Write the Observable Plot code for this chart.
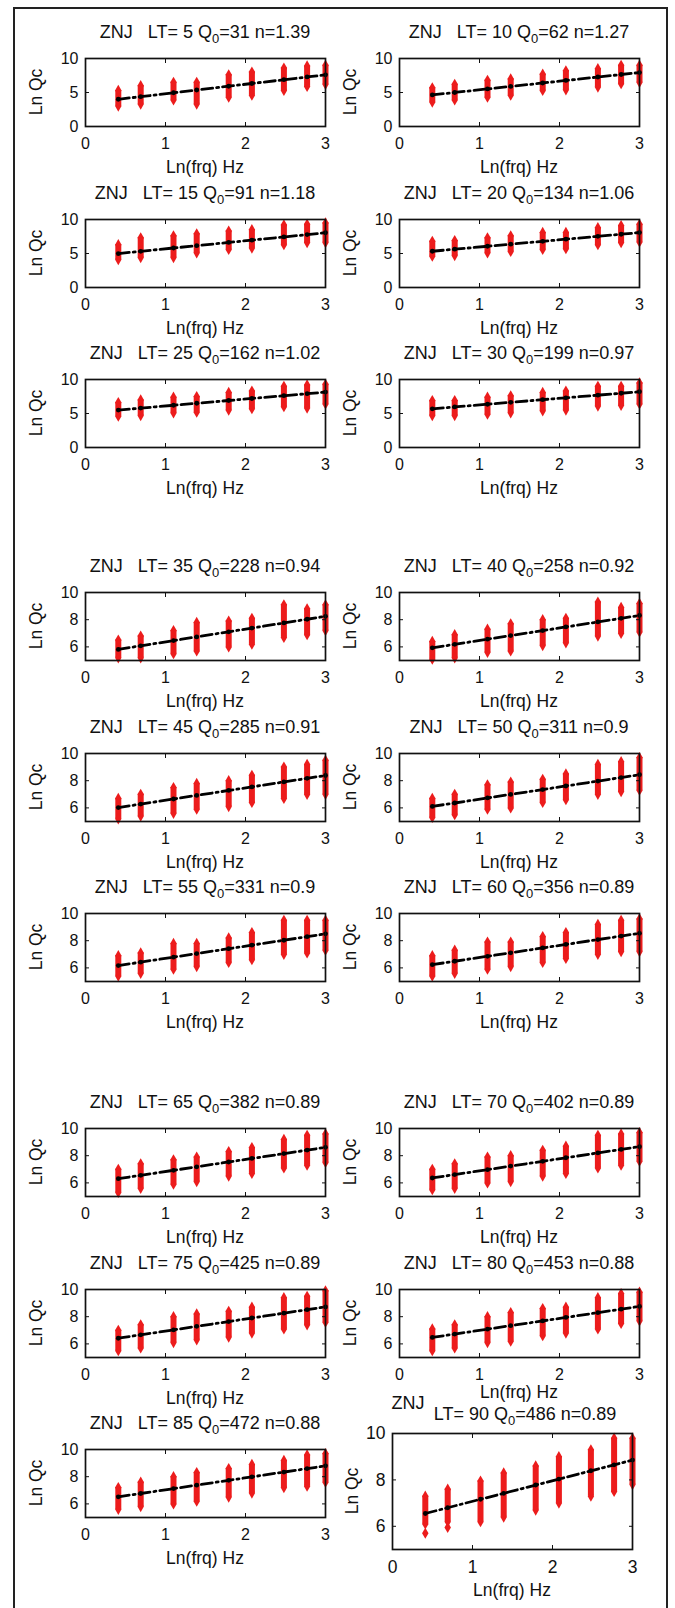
<!DOCTYPE html>
<html><head><meta charset="utf-8">
<script src="https://cdn.jsdelivr.net/npm/d3@7"></script>
<script src="https://cdn.jsdelivr.net/npm/@observablehq/plot@0.6"></script>
<style>
body{margin:0;background:#fff;}
#fig{position:relative;width:675px;height:1608px;overflow:hidden;background:#fff;font-family:"Liberation Sans",Arial,sans-serif;color:#111;}
.outer{position:absolute;left:13px;top:7px;width:655px;height:1700px;border:2px solid #222;box-sizing:border-box;}
.t{position:absolute;white-space:pre;font-size:18px;line-height:18px;transform:translate(-50%,-50%);}
.t sub{font-size:13px;vertical-align:-5px;line-height:0;}
.lab{font-size:17.5px;line-height:18px;}
.yl{transform:translate(-50%,-50%) rotate(-90deg);}
.pl{position:absolute;}
</style></head>
<body><div id="fig"><div class="outer"></div></div>
<script>
// ---- data ----
const lnFreq = [0.41, 0.69, 1.10, 1.39, 1.79, 2.08, 2.48, 2.77, 3.00];
const lapseTimes = [5,10,15,20,25,30,35,40,45,50,55,60,65,70,75,80,85,90];
const q0Values = [31,62,91,134,162,199,228,258,285,311,331,356,382,402,425,453,472,486];
const nValues = [1.39,1.27,1.18,1.06,1.02,0.97,0.94,0.92,0.91,0.9,0.9,0.89,0.89,0.89,0.89,0.88,0.88,0.89];
const qcLow = [
  [3.0,3.3,3.9,3.3,4.3,4.6,5.3,5.9,6.2],
  [3.6,3.9,4.3,4.6,5.3,5.4,5.8,6.3,6.5],
  [4.1,4.4,4.4,5.1,5.6,5.8,6.3,6.6,6.6],
  [4.6,4.7,5.1,5.3,5.6,5.7,6.3,6.6,6.7],
  [4.6,4.7,5.1,5.2,5.5,5.7,6.0,5.8,6.4],
  [4.7,4.7,4.9,5.1,5.4,5.5,6.1,6.2,6.4],
  [5.2,5.2,5.5,5.7,6.0,6.2,6.7,6.9,7.2],
  [5.1,5.2,5.6,5.7,6.1,6.3,6.8,7.0,7.1],
  [5.2,5.4,5.6,5.9,6.1,6.4,6.7,7.0,7.0],
  [5.3,5.5,5.9,6.0,6.4,6.6,7.0,7.2,7.3],
  [5.4,5.6,5.9,6.1,6.4,6.6,7.0,7.1,7.3],
  [5.4,5.6,5.9,6.1,6.4,6.7,7.0,7.2,7.2],
  [5.3,5.6,5.9,6.1,6.5,6.7,7.1,7.3,7.5],
  [5.5,5.6,6.0,6.1,6.5,6.7,7.1,7.3,7.6],
  [5.5,5.7,6.1,6.3,6.5,6.8,7.1,7.4,7.6],
  [5.5,5.7,6.1,6.2,6.6,6.8,7.1,7.5,7.7],
  [5.6,5.8,6.0,6.2,6.5,6.8,7.2,7.3,7.6],
  [6.1,6.2,6.2,6.4,6.7,7.0,7.3,7.5,7.8]
];
const qcHigh = [
  [5.3,6.0,6.5,6.5,7.6,8.0,8.6,8.9,9.0],
  [5.7,6.2,6.8,7.0,7.7,8.2,8.5,9.0,9.0],
  [6.3,7.3,7.6,7.9,8.3,8.5,9.2,9.3,9.5],
  [6.8,6.9,7.3,7.6,8.1,8.1,8.8,9.1,9.3],
  [6.6,7.0,7.4,7.5,8.1,8.3,9.0,9.2,9.3],
  [6.9,6.9,7.4,7.6,8.1,8.3,9.0,9.0,9.5],
  [6.5,6.8,7.2,7.8,7.9,8.1,9.1,8.8,9.1],
  [6.4,6.9,7.3,7.7,8.0,8.1,9.3,8.9,9.2],
  [6.7,7.0,7.5,7.8,8.0,8.4,9.0,9.2,9.5],
  [6.7,7.0,7.7,7.9,8.1,8.5,9.2,9.4,9.7],
  [6.9,7.1,7.8,7.8,8.2,8.6,9.5,9.5,9.5],
  [6.9,7.3,7.9,7.9,8.3,8.6,9.2,9.5,9.6],
  [7.0,7.4,7.7,7.9,8.3,8.6,9.2,9.5,9.6],
  [7.0,7.4,7.9,8.0,8.4,8.7,9.5,9.6,9.7],
  [7.0,7.4,8.0,8.2,8.4,8.7,9.4,9.5,9.9],
  [7.1,7.4,8.0,8.3,8.6,8.7,9.4,9.7,9.8],
  [7.2,7.6,8.0,8.3,8.6,8.9,9.2,9.6,9.7],
  [7.3,7.6,7.95,8.3,8.6,9.0,9.3,9.8,9.8]
];
const outlierLT = [90, 90];
const outlierX = [0.41, 0.69];
const outlierY = [5.7, 5.95];
const xTicks = [0,1,2,3];
const yTicksEarly = [0,5,10];
const yTicksLate = [6,8,10];

// ---- layout ----
const RED = "#ec1c1c";
const fig = document.getElementById("fig");
const rowTops = [58,219,379];
const groupOffsets = [0,534,1070];
const colLefts = [85,399];
const PW = 240, PH = 68;

function addText(html, x, y, cls) {
  const d = document.createElement("div");
  d.className = "t" + (cls ? " " + cls : "");
  d.style.left = x + "px"; d.style.top = y + "px";
  d.innerHTML = html;
  fig.appendChild(d);
}

lapseTimes.forEach((lt, i) => {
  const big = lt === 90;
  const row = Math.floor(i / 2), col = i % 2, grp = Math.floor(row / 3);
  let x0 = colLefts[col], y0 = rowTops[row % 3] + groupOffsets[grp], w = PW, h = PH;
  if (big) { x0 = 392; y0 = 1433; h = 116; }
  const early = lt <= 30;
  const yDomain = early ? [0,10] : [5,10];
  const yTicks = early ? yTicksEarly : yTicksLate;
  const data = lnFreq.map((x, j) => ({x, lo: qcLow[i][j], hi: qcHigh[i][j],
    fit: Math.log(q0Values[i]) + nValues[i] * x}));
  const outs = outlierLT.map((l, k) => ({l, x: outlierX[k], y: outlierY[k]})).filter(d => d.l === lt);
  const ml = 45, mr = 12, mt = 12, mb = 34;
  const fs = big ? 17.5 : 16;
  const p = Plot.plot({
    width: w + ml + mr, height: h + mt + mb,
    marginLeft: ml, marginRight: mr, marginTop: mt, marginBottom: mb,
    style: {fontFamily: '"Liberation Sans",Arial,sans-serif', fontSize: fs + "px", color: "#111", overflow: "visible", background: "transparent"},
    x: {domain: [0,3]},
    y: {domain: yDomain},
    marks: [
      Plot.ruleX(data, {x: "x", y1: "lo", y2: "hi", stroke: RED, strokeWidth: 6}),
      Plot.dot(data, {x: "x", y: "lo", symbol: "diamond", r: 3.4, fill: RED}),
      Plot.dot(data, {x: "x", y: "hi", symbol: "diamond", r: 3.4, fill: RED}),
      Plot.dot(outs, {x: "x", y: "y", symbol: "diamond", r: 3.4, fill: RED}),
      Plot.line(data, {x: "x", y: "fit", stroke: "#000", strokeWidth: 2.8, strokeDasharray: "11,4,2,4"}),
      Plot.dot(data, {x: "x", y: "fit", r: 2.4, fill: "#000"}),
      Plot.axisX({ticks: xTicks, tickSize: -4, tickPadding: 15, tickFormat: d3.format("d"), label: null}),
      Plot.axisX({anchor: "top", ticks: xTicks, tickSize: -4, tickFormat: () => "", label: null}),
      Plot.axisY({ticks: yTicks, tickSize: -4, tickPadding: 11, tickFormat: d3.format("d"), label: null}),
      Plot.axisY({anchor: "right", ticks: yTicks, tickSize: -4, tickFormat: () => "", label: null}),
      Plot.frame({stroke: "#111", strokeWidth: 1.7})
    ]
  });
  p.classList.add("pl");
  p.style.left = (x0 - ml) + "px";
  p.style.top = (y0 - mt) + "px";
  fig.appendChild(p);

  const cx = x0 + w / 2;
  if (big) {
    addText("ZNJ", 408, 1403);
    addText(`LT= ${lt} Q<sub>0</sub>=${q0Values[i]} n=${nValues[i]}`, 525, 1414);
    addText("Ln(frq) Hz", cx, y0 + h + 41, "lab");
    addText("Ln Qc", x0 - 40, y0 + h / 2, "yl lab");
  } else {
    addText(`ZNJ   LT= ${lt} Q<sub>0</sub>=${q0Values[i]} n=${nValues[i]}`, cx, y0 - 26);
    addText("Ln(frq) Hz", cx, y0 + h + (lt === 80 ? 35 : 41), "lab");
    addText("Ln Qc", x0 - 49, y0 + h / 2, "yl lab");
  }
});
</script></body></html>
